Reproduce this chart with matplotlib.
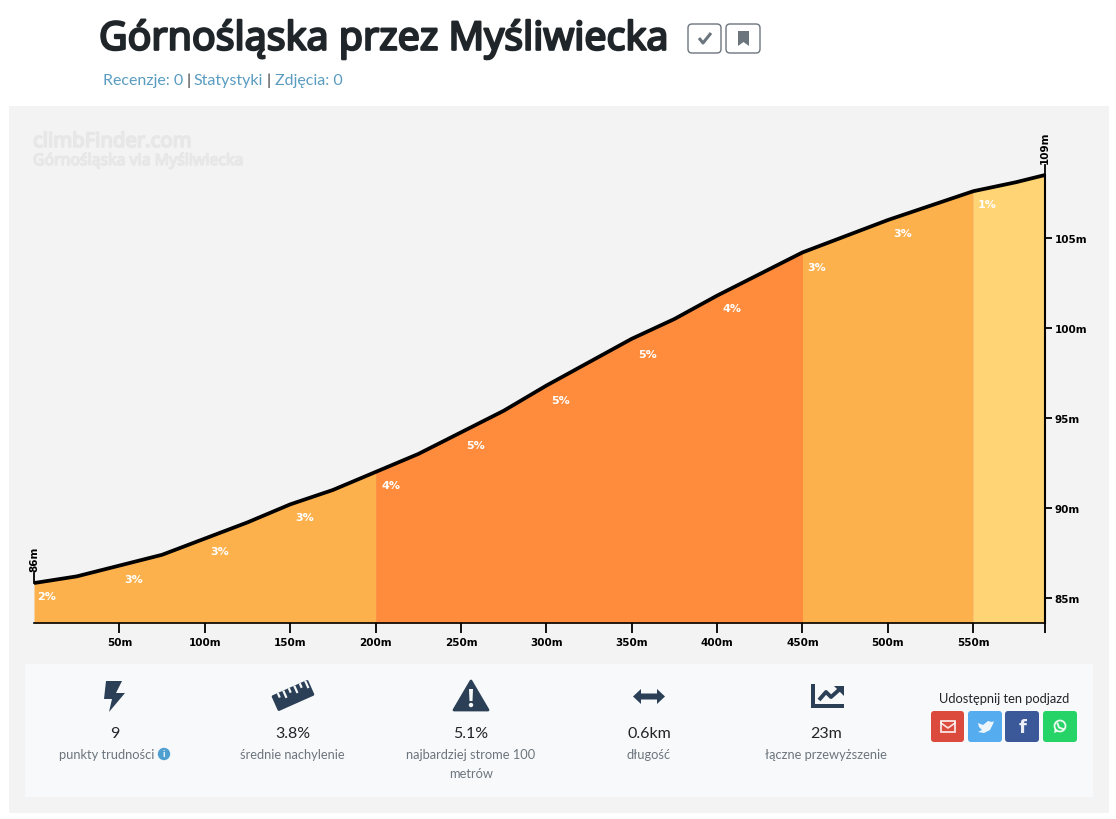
import matplotlib
matplotlib.use("Agg")
import matplotlib.pyplot as plt
import matplotlib.patheffects as pe
import numpy as np
from matplotlib.patches import FancyBboxPatch, Polygon, Rectangle, Circle, Ellipse
from matplotlib.transforms import Affine2D

# profile, distance in m / altitude in m
distance = [0, 25, 50, 75, 100, 125, 150, 175, 200, 225, 250, 275, 300, 325, 350, 375,
            400, 425, 450, 475, 500, 525, 550, 575, 592]
altitude = [85.83, 86.2, 86.8, 87.4, 88.3, 89.2, 90.2, 91.0, 92.0, 93.0, 94.2, 95.4, 96.8,
            98.1, 99.4, 100.5, 101.8, 103.0, 104.2, 105.1, 106.0, 106.8, 107.6, 108.1, 108.5]

seg_start = [0, 200, 450, 550]
seg_end = [200, 450, 550, 592]
seg_color = ["#fdb14c", "#fe8c3c", "#fdb14c", "#ffd474"]

grade_x = [7.6, 58.5, 109, 158.7, 209, 258.8, 308.5, 359, 409, 458.4, 508.8, 558]
grade_y = [85.1, 86.05, 87.6, 89.5, 91.3, 93.5, 96.0, 98.55, 101.1, 103.4, 105.3, 106.9]
grade_label = ["2%", "3%", "3%", "3%", "4%", "5%", "5%", "5%", "4%", "3%", "3%", "1%"]

x_ticks = [50, 100, 150, 200, 250, 300, 350, 400, 450, 500, 550]
y_ticks = [85, 90, 95, 100, 105]

stat_values = ["9", "3.8%", "5.1%", "0.6km", "23m"]
stat_names = ["punkty trudności", "średnie nachylenie", "najbardziej strome 100\nmetrów", "długość", "łączne przewyższenie"]
stat_centers = [115, 292.5, 471, 649, 826]

ICON = "#2b3f56"
W, H = 1116, 820


def fat(lw, color):
    return [pe.withStroke(linewidth=lw, foreground=color)]


fig = plt.figure(figsize=(W / 100, H / 100), dpi=100, facecolor="white")

# page layer in pixel coordinates
pg = fig.add_axes([0, 0, 1, 1], zorder=0)
pg.set_xlim(0, W)
pg.set_ylim(H - 1, -1)
pg.axis("off")

pg.add_patch(Rectangle((9, 106), 1100, 707, fc="#f3f3f3", ec="none"))
pg.add_patch(Rectangle((25, 664), 1068, 133, fc="#f8f9fa", ec="none"))

pg.text(99, 39, "Górnośląska przez Myśliwiecka", fontsize=28.3, family="Noto Sans",
        color="#1f2529", va="center", ha="left", path_effects=fat(1.6, "#1f2529"))
pg.text(103, 80, "Recenzje: 0", fontsize=11.5, family="Lato", color="#5a9cc0", va="center")
pg.text(186, 80, "|", fontsize=11.5, family="Lato", color="#333333", va="center")
pg.text(193, 80, "Statystyki", fontsize=11.5, family="Lato", color="#5a9cc0", va="center")
pg.text(267, 80, "|", fontsize=11.5, family="Lato", color="#333333", va="center")
pg.text(275, 80, "Zdjęcia: 0", fontsize=11.5, family="Lato", color="#5a9cc0", va="center")

# title buttons
for bx in [688, 726]:
    pg.add_patch(FancyBboxPatch((bx, 24), 34 if bx == 726 else 33, 29, boxstyle="round,pad=0,rounding_size=4",
                                fc="white", ec="#6c757d", lw=1))
pg.plot([699, 703, 711], [38, 43, 33], color="#6c757d", lw=2.2, solid_capstyle="butt")
pg.add_patch(Polygon([(738, 31), (749, 31), (749, 46), (743.5, 42), (738, 46)], fc="#6c757d", ec="none"))

# watermark
pg.text(33, 142, "climbFinder.com", fontsize=14.6, family="Noto Sans", color="#e7e7e7", va="center",
        path_effects=fat(1.2, "#e7e7e7"))
pg.text(33, 161, "Górnośląska via Myśliwiecka", fontsize=11.4, family="Noto Sans", color="#e7e7e7", va="center",
        path_effects=fat(1.0, "#e7e7e7"))

# profile chart
ax = fig.add_axes([34 / W, 1 - 624 / H, (1045 - 34) / W, (623 - 150) / H], zorder=1)
ax.patch.set_visible(False)
ax.set_xlim(0, 592)
ax.set_ylim(83.61, 109.89)

d = np.array(distance)
a = np.array(altitude)
for s, e, c in zip(seg_start, seg_end, seg_color):
    m = (d >= s) & (d <= e)
    ax.fill_between(d[m], ax.get_ylim()[0], a[m], color=c, lw=0, zorder=1)
ax.plot(d, a, color="black", lw=2.7, solid_capstyle="butt", solid_joinstyle="round", zorder=3, clip_on=False)

for gx, gy, gl in zip(grade_x, grade_y, grade_label):
    ax.text(gx, gy, gl, color="white", fontsize=8, weight="bold", ha="center", va="center", zorder=4)

for sp in ["top", "left"]:
    ax.spines[sp].set_visible(False)
ax.spines["bottom"].set_linewidth(1.2)
ax.spines["right"].set_linewidth(1.5)
ax.spines["right"].set_bounds(83.61, altitude[-1])

ax.set_xticks(x_ticks + [592])
ax.set_xticklabels([f"{t}m" for t in x_ticks] + [""], fontsize=7.5, weight="bold", color="black")
ax.tick_params(axis="x", length=7, width=1.3, pad=3)
ax.yaxis.tick_right()
ax.set_yticks(y_ticks)
ax.set_yticklabels([f"{t}m" for t in y_ticks], fontsize=7.5, weight="bold", color="black")
ax.tick_params(axis="y", length=5, width=1.3, pad=2)

# start / end altitude marks
ax.plot([0, 0], [altitude[0], altitude[0] + 0.55], color="black", lw=1.3, clip_on=False)
ax.plot([592, 592], [altitude[-1], altitude[-1] + 0.55], color="black", lw=1.3, clip_on=False)
ax.text(0, altitude[0] + 0.65, "86m", rotation=90, fontsize=7.5, weight="bold", ha="center", va="bottom", clip_on=False)
ax.text(592, altitude[-1] + 0.65, "109m", rotation=90, fontsize=7.5, weight="bold", ha="center", va="bottom", clip_on=False)

# stats row
for cx, v, n in zip(stat_centers, stat_values, stat_names):
    pg.text(cx, 733, v, fontsize=11.5, family="Lato", color="#212529", ha="center", va="center")
    if "\n" in n:
        pg.text(cx, 763.5, n, fontsize=9.3, family="Lato", color="#6c757d", ha="center", va="center", linespacing=1.65)
    elif cx == stat_centers[0]:
        pg.text(107, 754, n, fontsize=9.3, family="Lato", color="#6c757d", ha="center", va="center")
    else:
        pg.text(cx, 754, n, fontsize=9.3, family="Lato", color="#6c757d", ha="center", va="center")

# info dot next to "punkty trudności"
pg.add_patch(Circle((164, 754), 6.2, fc="#4f9fd0", ec="none"))
pg.text(164, 754, "i", fontsize=7, family="Lato", weight="bold", color="white", ha="center", va="center")

# bolt
pg.add_patch(Polygon([(106, 681), (122, 681), (116, 693), (125, 693), (109, 712), (112, 699), (104, 699)], fc=ICON, ec="none"))

# ruler
rul = Affine2D().rotate_deg_around(293, 695.5, -24) + pg.transData
pg.add_patch(FancyBboxPatch((273, 687), 40, 17, boxstyle="round,pad=0,rounding_size=1.5", fc=ICON, ec="none", transform=rul))
for rx, rl in zip([279, 285, 291, 297, 303, 309], [5, 8, 5, 8, 5, 8]):
    pg.add_patch(Rectangle((rx, 687), 2.2, rl, fc="#f8f9fa", ec="none", transform=rul))

# warning triangle
pg.add_patch(Polygon([(471, 681), (488, 710), (454, 710)], fc=ICON, ec=ICON, lw=2, joinstyle="round"))
pg.add_patch(Polygon([(469, 689), (473, 689), (472.5, 701), (469.5, 701)], fc="#f8f9fa", ec="none"))
pg.add_patch(Circle((471, 705), 2.2, fc="#f8f9fa", ec="none"))

# double arrow
pg.add_patch(Polygon([(633, 696.5), (641, 689), (641, 693.5), (657, 693.5), (657, 689), (665, 696.5),
                      (657, 704), (657, 699.5), (641, 699.5), (641, 704)], fc=ICON, ec="none"))

# chart icon
pg.add_patch(Polygon([(811, 684), (815, 684), (815, 704), (844, 704), (844, 708), (811, 708)], fc=ICON, ec="none"))
pg.plot([819, 826, 831, 840], [700, 692, 697, 689], color=ICON, lw=2.8, solid_capstyle="butt")
pg.add_patch(Polygon([(834, 686), (844, 686), (844, 696)], fc=ICON, ec="none"))

# share buttons
pg.text(1004, 698.5, "Udostępnij ten podjazd", fontsize=9.3, family="Lato", color="#212529", ha="center", va="center")
btn_x = [931, 968, 1005, 1043]
btn_w = [33, 34, 34, 34]
btn_c = ["#dc4a3d", "#55acee", "#3b5998", "#25d366"]
for bx, bw, bc in zip(btn_x, btn_w, btn_c):
    pg.add_patch(FancyBboxPatch((bx, 711), bw, 31, boxstyle="round,pad=0,rounding_size=3", fc=bc, ec="none"))

# mail
pg.add_patch(Rectangle((941, 721), 14, 10.5, fc="none", ec="white", lw=1.3, alpha=0.85))
pg.plot([941, 948, 955], [723, 728, 723], color="white", lw=1.2, alpha=0.85)
# twitter
pg.add_patch(Polygon([(978, 723), (983, 725), (988, 721), (992, 722), (994, 721), (993, 724), (990, 730),
                      (984, 733), (978, 732), (982, 730), (979, 727)], fc="white", ec="none", alpha=0.9))
# facebook
pg.text(1022.5, 727, "f", fontsize=13, family="DejaVu Sans", weight="bold", color="white", ha="center", va="center", alpha=0.9)
# whatsapp
pg.add_patch(Ellipse((1060, 726), 11, 11, fc="none", ec="white", lw=1.3, alpha=0.9))
pg.add_patch(Polygon([(1054, 733), (1055, 728), (1058, 731.5)], fc="white", ec="none", alpha=0.9))
pg.plot([1057.5, 1059, 1063], [723.5, 727.5, 729], color="white", lw=1.4, alpha=0.9)

fig.savefig("out.png", dpi=100, facecolor="white")
